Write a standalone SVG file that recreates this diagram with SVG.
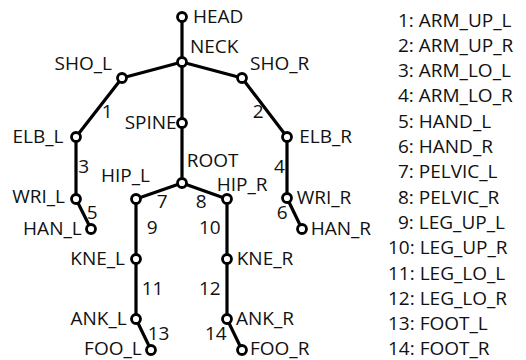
<svg xmlns="http://www.w3.org/2000/svg" width="526" height="360" viewBox="0 0 526 360">
<style>
text{font-family:"Open Sans","Noto Sans",sans-serif;font-size:19px;fill:#111}
.e{text-anchor:end}
.bone{stroke:#000;stroke-width:3.2;fill:none;stroke-linecap:round}
.j{fill:#fff;stroke:#000;stroke-width:2.8}
</style>
<rect width="526" height="360" fill="#fff"/>
<g id="connectors" class="bone">
<line x1="182" y1="17" x2="182" y2="62"/>
<line x1="182" y1="62" x2="182" y2="183"/>
<line x1="182" y1="62" x2="122" y2="78"/>
<line x1="182" y1="62" x2="242" y2="78"/>
<line x1="122" y1="78" x2="76" y2="137"/>
<line x1="242" y1="78" x2="287" y2="137"/>
<line x1="76" y1="137" x2="76" y2="199"/>
<line x1="287" y1="137" x2="287" y2="198"/>
<line x1="76" y1="199" x2="91" y2="229"/>
<line x1="287" y1="198" x2="302" y2="229"/>
<line x1="182" y1="183" x2="136" y2="199"/>
<line x1="182" y1="183" x2="227" y2="199"/>
<line x1="136" y1="199" x2="136" y2="319"/>
<line x1="227" y1="199" x2="227" y2="319"/>
<line x1="136" y1="319" x2="151" y2="350"/>
<line x1="227" y1="319" x2="242" y2="350"/>
</g>
<g id="bone-labels">
<text x="101.7" y="118.3">1</text>
<text x="252.7" y="118.3">2</text>
<text x="78.3" y="173.3">3</text>
<text x="274" y="173.3">4</text>
<text x="86.7" y="219.3">5</text>
<text x="276.7" y="219.3">6</text>
<text x="156.7" y="208.3">7</text>
<text x="195.7" y="208.3">8</text>
<text x="146.7" y="234">9</text>
<text x="199" y="234">10</text>
<text x="141.7" y="295">11</text>
<text x="199" y="295">12</text>
<text x="147.7" y="340">13</text>
<text x="205" y="340">14</text>
</g>
<g id="HEAD"><circle class="j" cx="182" cy="17" r="4.5"/><text x="193" y="22.7">HEAD</text></g>
<g id="NECK"><circle class="j" cx="182" cy="62" r="4.5"/><text x="190" y="53.3">NECK</text></g>
<g id="SHO_L"><circle class="j" cx="122" cy="78" r="4.5"/><text class="e" x="112" y="70">SHO_L</text></g>
<g id="SHO_R"><circle class="j" cx="242" cy="78" r="4.5"/><text x="250" y="70">SHO_R</text></g>
<g id="SPINE"><circle class="j" cx="182" cy="123" r="4.5"/><text class="e" x="176.7" y="129.3">SPINE</text></g>
<g id="ELB_L"><circle class="j" cx="76" cy="137" r="4.5"/><text class="e" x="63.5" y="142.7">ELB_L</text></g>
<g id="ELB_R"><circle class="j" cx="287" cy="137" r="4.5"/><text x="299.3" y="142.7">ELB_R</text></g>
<g id="ROOT"><circle class="j" cx="182" cy="183" r="4.5"/><text x="186.7" y="166.7">ROOT</text></g>
<g id="HIP_L"><circle class="j" cx="136" cy="199" r="4.5"/><text class="e" x="150" y="182.3">HIP_L</text></g>
<g id="HIP_R"><circle class="j" cx="227" cy="199" r="4.5"/><text x="216.7" y="190.7">HIP_R</text></g>
<g id="WRI_L"><circle class="j" cx="76" cy="199" r="4.5"/><text class="e" x="65" y="203.3">WRI_L</text></g>
<g id="WRI_R"><circle class="j" cx="287" cy="198" r="4.5"/><text x="296.7" y="204.3">WRI_R</text></g>
<g id="HAN_L"><circle class="j" cx="91" cy="229" r="4.5"/><text class="e" x="81.7" y="235">HAN_L</text></g>
<g id="HAN_R"><circle class="j" cx="302" cy="229" r="4.5"/><text x="310.7" y="235">HAN_R</text></g>
<g id="KNE_L"><circle class="j" cx="136" cy="259" r="4.5"/><text class="e" x="125" y="265">KNE_L</text></g>
<g id="KNE_R"><circle class="j" cx="227" cy="259" r="4.5"/><text x="236.7" y="265">KNE_R</text></g>
<g id="ANK_L"><circle class="j" cx="136" cy="319" r="4.5"/><text class="e" x="126.7" y="325">ANK_L</text></g>
<g id="ANK_R"><circle class="j" cx="227" cy="319" r="4.5"/><text x="236" y="325">ANK_R</text></g>
<g id="FOO_L"><circle class="j" cx="151" cy="350" r="4.5"/><text class="e" x="141.7" y="355">FOO_L</text></g>
<g id="FOO_R"><circle class="j" cx="242" cy="350" r="4.5"/><text x="250" y="355">FOO_R</text></g>
<g id="legend">
<text x="398" y="26.5">1: ARM_UP_L</text>
<text x="398" y="51.8">2: ARM_UP_R</text>
<text x="398" y="77.1">3: ARM_LO_L</text>
<text x="398" y="102.4">4: ARM_LO_R</text>
<text x="398" y="127.7">5: HAND_L</text>
<text x="398" y="153">6: HAND_R</text>
<text x="398" y="178.3">7: PELVIC_L</text>
<text x="398" y="203.6">8: PELVIC_R</text>
<text x="398" y="228.9">9: LEG_UP_L</text>
<text x="388" y="254.2">10: LEG_UP_R</text>
<text x="388" y="279.5">11: LEG_LO_L</text>
<text x="388" y="304.8">12: LEG_LO_R</text>
<text x="388" y="330.1">13: FOOT_L</text>
<text x="388" y="355.4">14: FOOT_R</text>
</g>
</svg>
